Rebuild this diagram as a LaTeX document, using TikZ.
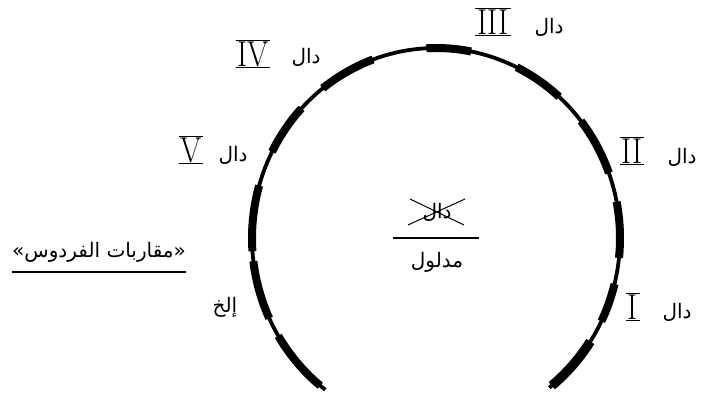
\documentclass[tikz,border=0pt]{standalone}
\usepackage{fontspec}
\newfontfamily\arabicfont[Script=Arabic]{DejaVu Sans}
\TeXXeTstate=1
\begin{document}
\begin{tikzpicture}[x=1pt,y=-1pt,
  dal/.style={font=\arabicfont\fontsize{20}{20}\selectfont, inner sep=0pt},
  rn/.style={font=\fontsize{36}{36}\selectfont, inner xsep=2pt, inner ysep=0.8pt, text height=24.6pt, text depth=0pt, xscale=0.85},
  bar/.style={line width=1.2pt},
  basearc/.style={line width=3.8pt},
  thickseg/.style={line width=8pt},
  rule/.style={line width=1.1pt}]
\useasboundingbox (0,0) rectangle (701,398);
% main arc
\draw[basearc] plot[domain=-52:233, samples=150] ({436+184*cos(\x)},{238-190*sin(\x)});
\foreach \a/\b in {211/231, 187/205, 164/184, 137/153, 110/128, 79/93, 48/64, 20/38, -6/11, -26/-14}
  \draw[thickseg] plot[domain=\a:\b, samples=20] ({436+184*cos(\x)},{238-190*sin(\x)});
\draw[line width=9.5pt] plot[domain=-51:-33, samples=20] ({436+184*cos(\x)},{238-190*sin(\x)});
% numerals with bars
\foreach \n/\t/\px/\py in {nI/I/633/307, nII/II/632/151, nIII/III/493/22, nIV/IV/253/54, nV/V/191/150} {
  \node[rn] (\n) at (\px,\py) {\t};
  \draw[bar] (\n.north west) -- (\n.north east);
  \draw[bar] (\n.south west) -- (\n.south east);
}
% dal labels
\node[dal] (d1) at (677,312) {\beginR دال\endR};
\node[dal] (d2) at (682,157) {\beginR دال\endR};
\node[dal] (d3) at (549,27) {\beginR دال\endR};
\node[dal] (d4) at (306,57) {\beginR دال\endR};
\node[dal] (d5) at (233,155) {\beginR دال\endR};
\node[dal] (etc) at (225,307) {\beginR إلخ\endR};
% centre
\node[dal] (sig) at (437,212) {\beginR دال\endR};
\coordinate (xa) at (410,199);
\coordinate (xb) at (464,225);
\coordinate (xc) at (408,225);
\coordinate (xd) at (465,199);
\draw[line width=1pt] (xa) -- (xb);
\draw[line width=1pt] (xc) -- (xd);
\coordinate (fl) at (393,238);
\coordinate (fr) at (479,238);
\draw[rule] (fl) -- (fr);
\node[dal] (sd) at (437,262) {\beginR مدلول\endR};
% title
\node[dal] (title) at (99,252) {\beginR «مقاربات الفردوس»\endR};
\coordinate (ul) at (12,272);
\coordinate (ur) at (186,272);
\draw[rule] (ul) -- (ur);
\end{tikzpicture}
\end{document}
